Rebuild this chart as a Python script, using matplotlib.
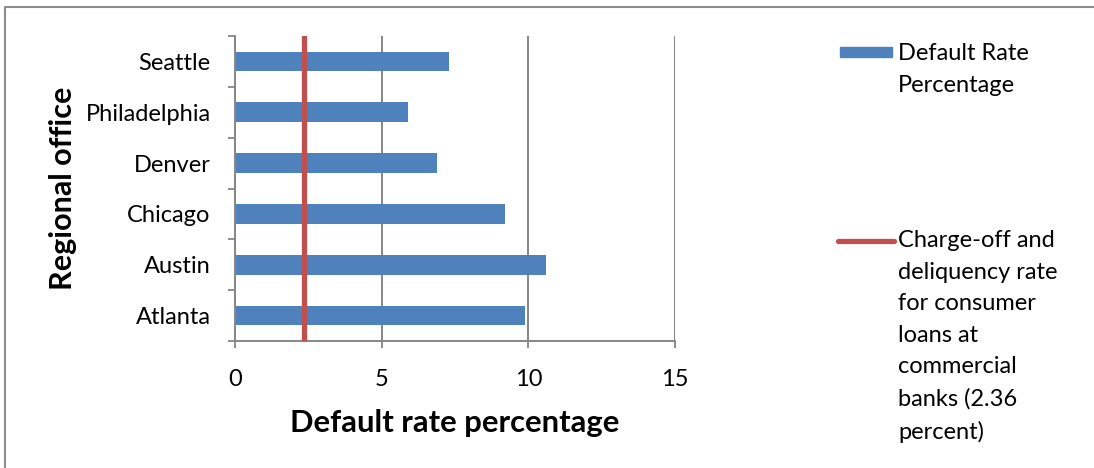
import matplotlib.pyplot as plt
from matplotlib.patches import Rectangle
from matplotlib.lines import Line2D

plt.rcParams['font.family'] = ['Lato', 'DejaVu Sans']

offices = ["Atlanta", "Austin", "Chicago", "Denver", "Philadelphia", "Seattle"]
default_rates = [9.9, 10.6, 9.2, 6.9, 5.9, 7.3]
benchmark_rate = 2.36
x_ticks = [0, 5, 10, 15]

bar_color = "#4F81BD"
line_color = "#C0504D"
grid_color = "#868686"

fig = plt.figure(figsize=(10.94, 4.68), dpi=100)
ax = fig.add_axes([235 / 1094, 1 - 341 / 468, 440 / 1094, 305 / 468])

pos = list(range(len(offices)))
ax.barh(pos, default_rates, height=0.39, color=bar_color, zorder=2)
ax.axvline(benchmark_rate, color=line_color, lw=3.8, zorder=3)

ax.set_xlim(0, 15)
ax.set_ylim(-0.5, len(offices) - 0.5)
ax.set_xticks(x_ticks)
ax.set_xticklabels([str(t) for t in x_ticks], fontsize=17)
ax.set_yticks(pos)
ax.set_yticklabels(offices, fontsize=17)
ax.set_yticks([p - 0.5 for p in pos] + [len(offices) - 0.5], minor=True)
ax.tick_params(axis='y', which='major', length=0, pad=17.5)
ax.tick_params(axis='y', which='minor', length=5, width=1.3, color=grid_color)
ax.tick_params(axis='x', length=5, width=1.3, color=grid_color, pad=15)

ax.grid(axis='x', color=grid_color, lw=1.4, zorder=1)
for side in ['top', 'right']:
    ax.spines[side].set_visible(False)
for side in ['left', 'bottom']:
    ax.spines[side].set_color(grid_color)
    ax.spines[side].set_linewidth(1.4)

ax.set_xlabel("Default rate percentage", fontsize=22.3, fontweight='bold', labelpad=14)
ax.set_ylabel("Regional office", fontsize=22, fontweight='bold', labelpad=6)

# legend drawn by hand so the two entries sit apart like in the chart
fig.add_artist(Rectangle((840 / 1094, 1 - 57 / 468), 52 / 1094, 10 / 468,
                         transform=fig.transFigure, color=bar_color))
fig.text(898 / 1094, 1 - 43 / 468, "Default Rate\nPercentage", fontsize=17,
         va='top', ha='left', linespacing=1.62)
fig.add_artist(Line2D([838 / 1094, 894 / 1094], [1 - 241 / 468, 1 - 241 / 468],
                      transform=fig.transFigure, color=line_color, lw=3.8,
                      solid_capstyle='round'))
fig.text(898 / 1094, 1 - 230 / 468,
         "Charge-off and\ndeliquency rate\nfor consumer\nloans at\ncommercial\nbanks (2.36\npercent)",
         fontsize=17, va='top', ha='left', linespacing=1.62)

# outer chart frame
fig.add_artist(Line2D([5 / 1094, 5 / 1094, 1], [0, 1 - 7 / 468, 1 - 7 / 468],
                      transform=fig.transFigure, color="#8c8c8c", lw=1.5))

fig.savefig("out.png", dpi=100)
